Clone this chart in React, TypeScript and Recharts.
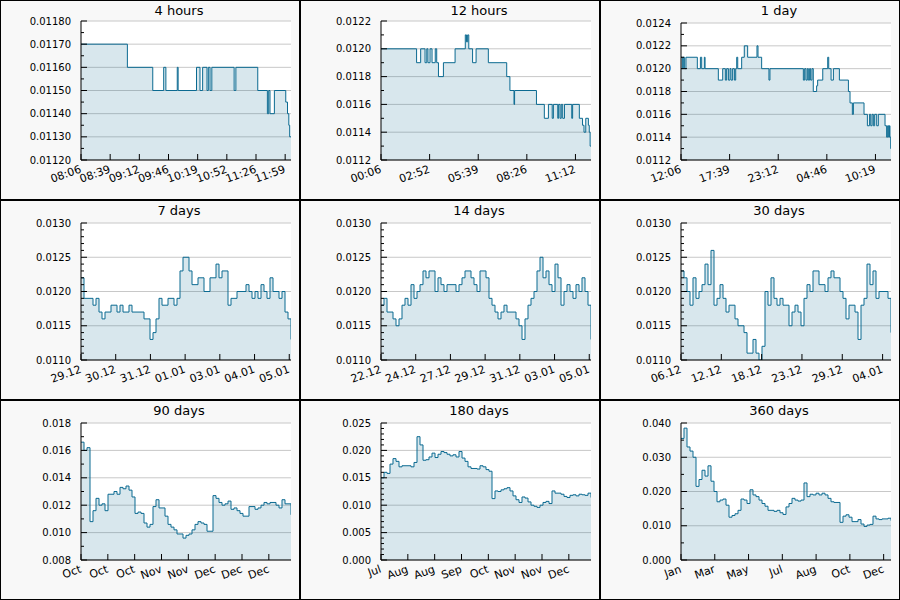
import React from 'react';
import { AreaChart, Area, XAxis, YAxis, CartesianGrid } from 'recharts';

const LINE = '#0b6a91';
const W = 298;
const H = 198;
const PLOT_LEFT = 80;
const X_AXIS_H = 39;
const AXIS_Y = H - X_AXIS_H;

// 4 hours: minutes after 08:06 where the price changes
const h4Minutes = [0, 53, 82, 94.5, 97, 110, 111, 132, 136, 139, 144, 145.5, 147.5, 149.5, 175, 177, 202, 213, 214.5, 216, 221, 234, 236, 237.5, 238.5, 240];
const h4Prices = [0.0117, 0.0116, 0.0115, 0.0116, 0.0115, 0.0116, 0.0115, 0.0116, 0.0115, 0.0116, 0.0115, 0.0116, 0.0115, 0.0116, 0.0115, 0.0116, 0.0115, 0.0114, 0.0115, 0.0114, 0.0115, 0.01145, 0.0114, 0.01135, 0.0113, 0.0113];
const h4Ticks = [0, 33.33, 66.67, 100, 133.33, 166.67, 200, 233.33];
const h4Labels = ['08:06', '08:39', '09:12', '09:46', '10:19', '10:52', '11:26', '11:59'];

// 12 hours: minutes after 00:06
const h12Minutes = [0, 122, 136, 151, 157, 161, 168, 175, 186, 191, 197, 214, 254, 289, 293, 297, 301, 314, 326, 368, 431, 442, 456, 458, 533, 560, 574, 587, 591, 606, 609, 614, 618, 623, 629, 654, 657, 680, 691, 696, 702, 711, 714, 717, 720];
const h12Prices = [0.0120, 0.0119, 0.0120, 0.0119, 0.0120, 0.0119, 0.0120, 0.0119, 0.0120, 0.0119, 0.0118, 0.0119, 0.0120, 0.0121, 0.01205, 0.0121, 0.0120, 0.0119, 0.0120, 0.0119, 0.0118, 0.0117, 0.0116, 0.0117, 0.0116, 0.0115, 0.0116, 0.0115, 0.0116, 0.0115, 0.0116, 0.0115, 0.0116, 0.0115, 0.0116, 0.0115, 0.0116, 0.0115, 0.01145, 0.0114, 0.0115, 0.01145, 0.0114, 0.0113, 0.0113];
const h12Ticks = [0, 166.67, 333.33, 500, 666.67];
const h12Labels = ['00:06', '02:52', '05:39', '08:26', '11:12'];

// 1 day: minutes after 12:06
const d1Minutes = [0, 9, 16, 25, 34, 112, 133, 142, 160, 165, 256, 286, 304, 313, 325, 336, 343, 354, 366, 375, 382, 389, 416, 434, 457, 521, 528, 553, 603, 610, 839, 848, 857, 866, 873, 882, 889, 898, 907, 930, 937, 972, 1006, 1013, 1029, 1045, 1086, 1148, 1159, 1175, 1182, 1255, 1278, 1292, 1301, 1310, 1319, 1328, 1342, 1353, 1399, 1410, 1417, 1424, 1429, 1433, 1438, 1440];
const d1Prices = [0.0121, 0.0120, 0.0121, 0.0120, 0.0121, 0.0120, 0.0121, 0.0120, 0.0121, 0.0120, 0.0119, 0.0120, 0.0119, 0.0120, 0.0119, 0.0120, 0.0119, 0.0120, 0.0119, 0.0120, 0.0121, 0.0120, 0.0121, 0.0122, 0.0121, 0.0122, 0.0121, 0.0120, 0.0119, 0.0120, 0.0119, 0.0120, 0.0119, 0.0120, 0.0119, 0.0120, 0.0119, 0.0120, 0.0118, 0.01185, 0.0119, 0.0120, 0.0121, 0.0120, 0.0119, 0.0120, 0.0119, 0.0118, 0.0117, 0.0116, 0.0117, 0.0116, 0.0115, 0.0116, 0.0115, 0.0116, 0.0115, 0.0116, 0.0115, 0.0116, 0.0115, 0.0114, 0.0115, 0.0114, 0.0115, 0.0114, 0.0113, 0.0113];
const d1Ticks = [0, 333.33, 666.67, 1000, 1333.33];
const d1Labels = ['12:06', '17:39', '23:12', '04:46', '10:19'];

// 7 days, one reading every 0.1 day
const d7Prices = [
  0.0122, 0.0119, 0.0119, 0.0119, 0.0118, 0.0119, 0.0117, 0.0116, 0.0117, 0.0117,
  0.0118, 0.0118, 0.0117, 0.0118, 0.0117, 0.0117, 0.0118, 0.0117, 0.0117, 0.0117,
  0.0117, 0.0116, 0.0116, 0.0113, 0.0114, 0.0116, 0.0119, 0.0118, 0.0118, 0.0119,
  0.0119, 0.0118, 0.0119, 0.0123, 0.0125, 0.0125, 0.0123, 0.0121, 0.0121, 0.0122,
  0.0122, 0.0120, 0.0120, 0.0122, 0.0122, 0.0124, 0.0122, 0.0123, 0.0123, 0.0118,
  0.0119, 0.0119, 0.0120, 0.0120, 0.0120, 0.0121, 0.0120, 0.0119, 0.0120, 0.0119,
  0.0121, 0.0120, 0.0119, 0.0122, 0.0120, 0.0120, 0.0119, 0.0120, 0.0117, 0.0116,
  0.0113,
];
const d7Ticks = [0, 1.157, 2.314, 3.471, 4.628, 5.785, 6.942];
const d7Labels = ['29.12', '30.12', '31.12', '01.01', '03.01', '04.01', '05.01'];

// 14 days, one reading every 0.2 day
const d14Prices = [
  0.0118, 0.0119, 0.0117, 0.0117, 0.0116, 0.0115, 0.0116, 0.0118, 0.0119, 0.0118,
  0.0121, 0.0119, 0.0120, 0.0121, 0.0123, 0.0122, 0.0123, 0.0123, 0.0120, 0.0122,
  0.0121, 0.0120, 0.0121, 0.0121, 0.0121, 0.0120, 0.0121, 0.0122, 0.0123, 0.0123,
  0.0122, 0.0121, 0.0120, 0.0123, 0.0123, 0.0122, 0.0119, 0.0118, 0.0117, 0.0116,
  0.0117, 0.0118, 0.0117, 0.0117, 0.0117, 0.0116, 0.0115, 0.0113, 0.0116, 0.0118,
  0.0119, 0.0120, 0.0123, 0.0125, 0.0122, 0.0123, 0.0121, 0.0120, 0.0124, 0.0122,
  0.0118, 0.0120, 0.0121, 0.0120, 0.0119, 0.0121, 0.0120, 0.0122, 0.0120, 0.0118,
  0.0113,
];
const d14Ticks = [0, 2.314, 4.628, 6.942, 9.256, 11.57, 13.884];
const d14Labels = ['22.12', '24.12', '27.12', '29.12', '31.12', '03.01', '05.01'];

// 30 days
const d30Prices = [
  0.0123, 0.0122, 0.0120, 0.0118, 0.0122, 0.0119, 0.0120, 0.0121, 0.0124, 0.0121,
  0.0126, 0.0118, 0.0119, 0.0121, 0.0119, 0.0117, 0.0118, 0.0118, 0.0116, 0.0115,
  0.0115, 0.0114, 0.0111, 0.0111, 0.0113, 0.0111, 0.0110, 0.0112, 0.0120, 0.0118,
  0.0122, 0.0119, 0.0118, 0.0119, 0.0118, 0.0118, 0.0115, 0.0117, 0.0118, 0.0117,
  0.0115, 0.0119, 0.0121, 0.0120, 0.0123, 0.0123, 0.0121, 0.0121, 0.0120, 0.0122,
  0.0123, 0.0122, 0.0122, 0.0120, 0.0119, 0.0116, 0.0118, 0.0118, 0.0117, 0.0113,
  0.0118, 0.0119, 0.0124, 0.0121, 0.0123, 0.0119, 0.0120, 0.0120, 0.0120, 0.0119,
  0.0114,
];
const d30Ticks = [0, 5.76, 11.52, 17.28, 23.04, 28.8];
const d30Labels = ['06.12', '12.12', '18.12', '23.12', '29.12', '04.01'];

// 90 days
const d90Prices = [
  0.0166, 0.0160, 0.0162, 0.0108, 0.0116, 0.0125, 0.0120, 0.0121, 0.0116, 0.0128,
  0.0128, 0.0130, 0.0128, 0.0133, 0.0132, 0.0134, 0.0131, 0.0126, 0.0114, 0.0115,
  0.0114, 0.0107, 0.0104, 0.0106, 0.0119, 0.0124, 0.0118, 0.0118, 0.0112, 0.0106,
  0.0104, 0.0102, 0.0099, 0.0099, 0.0096, 0.0098, 0.0099, 0.0102, 0.0106, 0.0108,
  0.0107, 0.0106, 0.0101, 0.0101, 0.0127, 0.0125, 0.0122, 0.0120, 0.0121, 0.0123,
  0.0117, 0.0118, 0.0116, 0.0114, 0.0112, 0.0112, 0.0119, 0.0119, 0.0117, 0.0118,
  0.0120, 0.0122, 0.0121, 0.0122, 0.0122, 0.0120, 0.0118, 0.0124, 0.0121, 0.0121,
  0.0113,
];
const d90Ticks = [0, 11.5, 23, 34.5, 46, 57.5, 69, 80.5];
const d90Labels = ['Oct', 'Oct', 'Oct', 'Nov', 'Nov', 'Dec', 'Dec', 'Dec'];

// 180 days
const d180Prices = [
  0.0150, 0.0160, 0.0158, 0.0175, 0.0185, 0.0180, 0.0170, 0.0172, 0.0172, 0.0172,
  0.0170, 0.0178, 0.0225, 0.0210, 0.0182, 0.0183, 0.0188, 0.0195, 0.0187, 0.0193,
  0.0198, 0.0196, 0.0193, 0.0190, 0.0192, 0.0188, 0.0198, 0.0186, 0.0180, 0.0170,
  0.0167, 0.0167, 0.0166, 0.0172, 0.0170, 0.0165, 0.0162, 0.0112, 0.0126, 0.0125,
  0.0128, 0.0130, 0.0132, 0.0126, 0.0117, 0.0110, 0.0105, 0.0115, 0.0113, 0.0106,
  0.0100, 0.0098, 0.0096, 0.0100, 0.0105, 0.0107, 0.0103, 0.0126, 0.0122, 0.0122,
  0.0120, 0.0116, 0.0114, 0.0118, 0.0119, 0.0117, 0.0120, 0.0119, 0.0118, 0.0122,
  0.0114,
];
const d180Ticks = [0, 23, 46, 69, 92, 115, 138, 161];
const d180Labels = ['Jul', 'Aug', 'Aug', 'Sep', 'Oct', 'Nov', 'Nov', 'Dec'];

// 360 days
const d360Prices = [
  0.0355, 0.0385, 0.0330, 0.0318, 0.0300, 0.0215, 0.0235, 0.0262, 0.0245, 0.0275,
  0.0230, 0.0200, 0.0170, 0.0175, 0.0178, 0.0160, 0.0125, 0.0130, 0.0135, 0.0145,
  0.0178, 0.0175, 0.0165, 0.0205, 0.0190, 0.0185, 0.0175, 0.0165, 0.0157, 0.0145,
  0.0145, 0.0142, 0.0145, 0.0138, 0.0133, 0.0155, 0.0165, 0.0180, 0.0175, 0.0172,
  0.0175, 0.0225, 0.0185, 0.0192, 0.0190, 0.0195, 0.0190, 0.0195, 0.0190, 0.0180,
  0.0170, 0.0168, 0.0168, 0.0110, 0.0128, 0.0132, 0.0125, 0.0112, 0.0112, 0.0118,
  0.0105, 0.0098, 0.0102, 0.0104, 0.0128, 0.0120, 0.0118, 0.0120, 0.0120, 0.0122,
  0.0115,
];
const d360Ticks = [0, 57.9, 115.8, 173.7, 231.6, 289.5, 347.4];
const d360Labels = ['Jan', 'Mar', 'May', 'Jul', 'Aug', 'Oct', 'Dec'];

type Point = { t: number; v: number };

const stepSeries = (times: number[], values: number[]): Point[] =>
  times.map((t, i) => ({ t, v: values[i] }));

const evenSeries = (span: number, values: number[]): Point[] =>
  values.map((v, i) => ({ t: (i * span) / (values.length - 1), v }));

interface PanelProps {
  title: string;
  data: Point[];
  xMax: number;
  xTicks: number[];
  xLabels: string[];
  yMin: number;
  yMax: number;
  yStep: number;
  minorStep: number;
  digits: number;
  top: number;
  left: number;
  offsetTop: number;
}

function Panel(p: PanelProps) {
  const n = Math.round((p.yMax - p.yMin) / p.minorStep);
  const yTicks = Array.from({ length: n + 1 }, (_, i) => +(p.yMin + i * p.minorStep).toFixed(8));
  const isMajor = (v: number) => {
    const k = (v - p.yMin) / p.yStep;
    return Math.abs(k - Math.round(k)) < 1e-6;
  };
  const majorTicks = yTicks.filter(isMajor);

  const renderYTick = (props: any) => {
    const { y, payload } = props;
    const major = isMajor(payload.value);
    return (
      <g>
        <line x1={PLOT_LEFT} x2={PLOT_LEFT + (major ? 6 : 3)} y1={y} y2={y} stroke="#000" />
        {major && (
          <text x={PLOT_LEFT - 10} y={y} dy="0.35em" textAnchor="end" fontSize={10} fill="#000">
            {payload.value.toFixed(p.digits)}
          </text>
        )}
      </g>
    );
  };

  // rotated time labels, anchored at their right end just below the tick
  const renderXTick = (props: any) => {
    const { x, index } = props;
    const lx = x + 1;
    const ly = AXIS_Y + 12;
    return (
      <g>
        <line x1={x} x2={x} y1={AXIS_Y} y2={AXIS_Y - 6} stroke="#000" />
        <text x={lx} y={ly} textAnchor="end" fontSize={11} fill="#000" transform={`rotate(-20 ${lx} ${ly})`}>
          {p.xLabels[index]}
        </text>
      </g>
    );
  };

  return (
    <div
      style={{
        position: 'absolute',
        left: p.left,
        top: p.top,
        width: 300,
        height: 200,
        boxSizing: 'border-box',
        border: '1px solid #000',
        background: '#f8f8f8',
      }}
    >
      <div
        style={{
          position: 'absolute',
          left: 0,
          top: 2,
          width: 356,
          textAlign: 'center',
          fontSize: 13,
          lineHeight: '16px',
          color: '#000',
        }}
      >
        {p.title}
      </div>
      <AreaChart width={W} height={H} data={p.data} margin={{ top: p.offsetTop, right: 8, bottom: 0, left: 0 }}>
        <CartesianGrid vertical={false} fill="#fff" stroke="#c8c8c8" horizontalValues={majorTicks} />
        <XAxis
          type="number"
          dataKey="t"
          domain={[0, p.xMax]}
          ticks={p.xTicks}
          interval={0}
          height={X_AXIS_H}
          axisLine={{ stroke: '#000' }}
          tickLine={false}
          tick={renderXTick}
          allowDataOverflow
        />
        <YAxis
          type="number"
          domain={[p.yMin, p.yMax]}
          ticks={yTicks}
          interval={0}
          width={PLOT_LEFT}
          axisLine={{ stroke: '#000' }}
          tickLine={false}
          tick={renderYTick}
          allowDataOverflow
        />
        <Area
          type="stepAfter"
          dataKey="v"
          stroke={LINE}
          strokeWidth={1}
          fill={LINE}
          fillOpacity={0.16}
          dot={false}
          activeDot={false}
          isAnimationActive={false}
        />
      </AreaChart>
    </div>
  );
}

export default function App() {
  return (
    <div
      style={{
        position: 'absolute',
        left: 0,
        top: 0,
        width: 900,
        height: 600,
        background: '#f8f8f8',
        fontFamily: '"DejaVu Sans", sans-serif',
      }}
    >
      <Panel title="4 hours" data={stepSeries(h4Minutes, h4Prices)} xMax={240} xTicks={h4Ticks} xLabels={h4Labels}
        yMin={0.0112} yMax={0.0118} yStep={0.0001} minorStep={0.00005} digits={5} left={0} top={0} offsetTop={20} />
      <Panel title="12 hours" data={stepSeries(h12Minutes, h12Prices)} xMax={720} xTicks={h12Ticks} xLabels={h12Labels}
        yMin={0.0112} yMax={0.0122} yStep={0.0002} minorStep={0.0001} digits={4} left={300} top={0} offsetTop={20} />
      <Panel title="1 day" data={stepSeries(d1Minutes, d1Prices)} xMax={1440} xTicks={d1Ticks} xLabels={d1Labels}
        yMin={0.0112} yMax={0.0124} yStep={0.0002} minorStep={0.0001} digits={4} left={600} top={0} offsetTop={22} />
      <Panel title="7 days" data={evenSeries(7, d7Prices)} xMax={7} xTicks={d7Ticks} xLabels={d7Labels}
        yMin={0.011} yMax={0.013} yStep={0.0005} minorStep={0.0001} digits={4} left={0} top={200} offsetTop={22} />
      <Panel title="14 days" data={evenSeries(14, d14Prices)} xMax={14} xTicks={d14Ticks} xLabels={d14Labels}
        yMin={0.011} yMax={0.013} yStep={0.0005} minorStep={0.0001} digits={4} left={300} top={200} offsetTop={22} />
      <Panel title="30 days" data={evenSeries(30, d30Prices)} xMax={30} xTicks={d30Ticks} xLabels={d30Labels}
        yMin={0.011} yMax={0.013} yStep={0.0005} minorStep={0.0001} digits={4} left={600} top={200} offsetTop={22} />
      <Panel title="90 days" data={evenSeries(90, d90Prices)} xMax={90} xTicks={d90Ticks} xLabels={d90Labels}
        yMin={0.008} yMax={0.018} yStep={0.002} minorStep={0.001} digits={3} left={0} top={400} offsetTop={22} />
      <Panel title="180 days" data={evenSeries(180, d180Prices)} xMax={180} xTicks={d180Ticks} xLabels={d180Labels}
        yMin={0} yMax={0.025} yStep={0.005} minorStep={0.001} digits={3} left={300} top={400} offsetTop={22} />
      <Panel title="360 days" data={evenSeries(360, d360Prices)} xMax={360} xTicks={d360Ticks} xLabels={d360Labels}
        yMin={0} yMax={0.04} yStep={0.01} minorStep={0.005} digits={3} left={600} top={400} offsetTop={22} />
    </div>
  );
}
